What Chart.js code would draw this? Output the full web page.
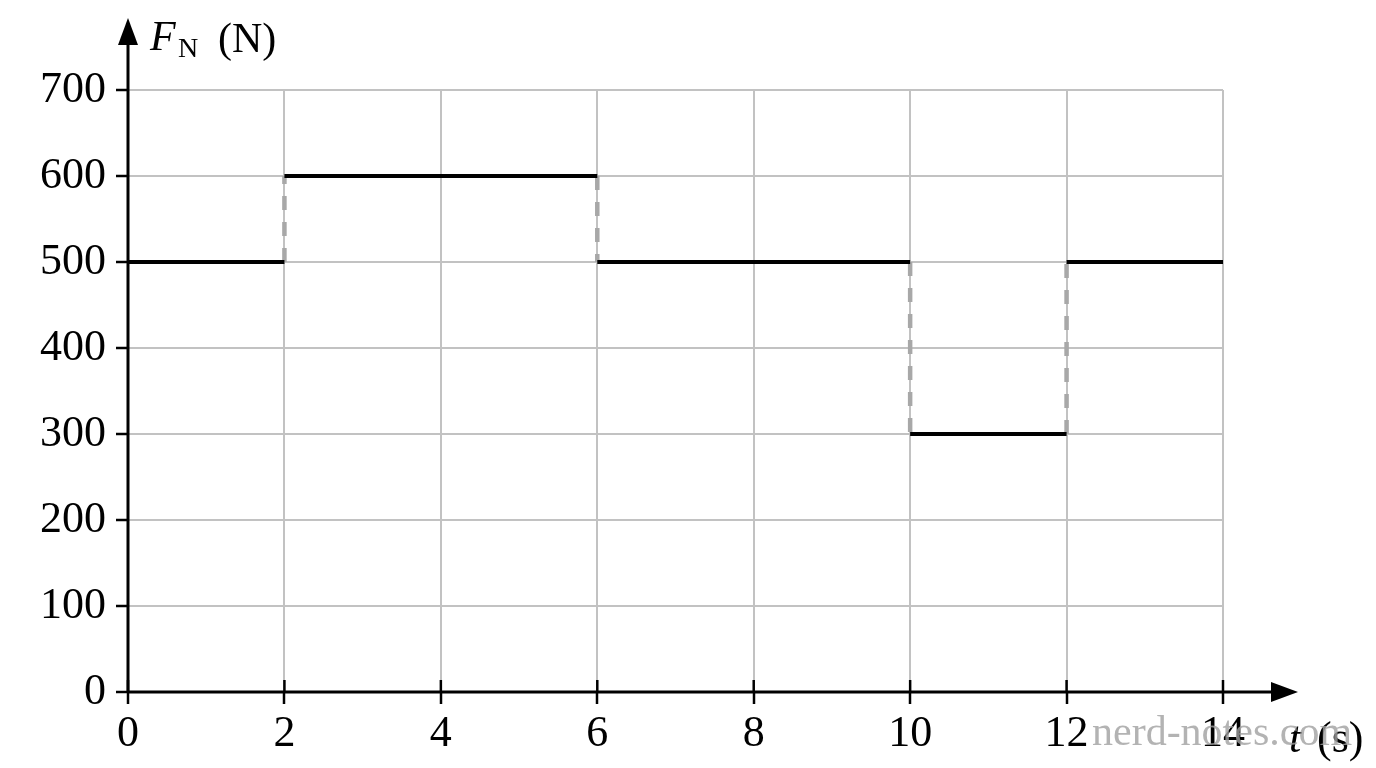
<!DOCTYPE html>
<html>
<head>
<meta charset="utf-8">
<script src="https://cdn.jsdelivr.net/npm/chart.js@4/dist/chart.umd.min.js"></script>
<style>
  html, body { margin: 0; background: #fff; }
  canvas { display: block; }
</style>
</head>
<body>
<canvas id="forceChart" width="1376" height="768"></canvas>
<script>
// ─── Data ──────────────────────────────────────────────────
const stepTimes = [0, 2, 6, 10, 12, 14];          // s, segment edges
const stepForces = [500, 600, 500, 300, 500];     // N, one per segment
const xTicks = [0, 2, 4, 6, 8, 10, 12, 14];
const yTicks = [0, 100, 200, 300, 400, 500, 600, 700];

const SERIF = '"Liberation Serif", "DejaVu Serif", serif';

// flat levels, broken with nulls between segments
const levelPoints = [];
stepForces.forEach((f, i) => {
  levelPoints.push({ x: stepTimes[i], y: f }, { x: stepTimes[i + 1], y: f });
  if (i < stepForces.length - 1) levelPoints.push({ x: stepTimes[i + 1], y: null });
});

// dashed jumps at each segment edge
const jumpPoints = [];
for (let i = 1; i < stepForces.length; i++) {
  jumpPoints.push({ x: stepTimes[i], y: stepForces[i - 1] }, { x: stepTimes[i], y: stepForces[i] }, { x: stepTimes[i], y: null });
}

// ─── Axes, arrows, titles, watermark ───────────────────────
const axesPlugin = {
  id: 'axesPlugin',
  afterDraw(chart) {
    const { ctx, chartArea: a, scales } = chart;
    ctx.save();
    ctx.strokeStyle = '#000';
    ctx.fillStyle = '#000';

    // x ticks poke above the axis too
    ctx.lineWidth = 2.5;
    xTicks.forEach(v => {
      const px = scales.x.getPixelForValue(v);
      ctx.beginPath();
      ctx.moveTo(px, a.bottom - 12);
      ctx.lineTo(px, a.bottom);
      ctx.stroke();
    });

    ctx.lineWidth = 3;
    ctx.beginPath();
    ctx.moveTo(a.left, a.bottom);
    ctx.lineTo(a.left, 40);
    ctx.moveTo(a.left, a.bottom);
    ctx.lineTo(1276, a.bottom);
    ctx.stroke();

    ctx.beginPath();
    ctx.moveTo(a.left, 18);
    ctx.lineTo(a.left - 10, 45);
    ctx.lineTo(a.left + 10, 45);
    ctx.closePath();
    ctx.fill();

    ctx.beginPath();
    ctx.moveTo(1298, a.bottom);
    ctx.lineTo(1271, a.bottom - 10);
    ctx.lineTo(1271, a.bottom + 10);
    ctx.closePath();
    ctx.fill();

    // y title: F_N (N)
    ctx.textBaseline = 'alphabetic';
    ctx.textAlign = 'left';
    ctx.font = 'italic 42px ' + SERIF;
    ctx.fillText('F', 150, 50);
    ctx.font = '28px ' + SERIF;
    ctx.fillText('N', 178, 57);
    ctx.font = '42px ' + SERIF;
    ctx.fillText('(N)', 218, 52);

    // x title: t (s)
    ctx.font = 'italic 44px ' + SERIF;
    ctx.fillText('t', 1289, 752);
    ctx.font = '44px ' + SERIF;
    ctx.fillText('(s)', 1317, 752);

    // watermark
    ctx.font = '42px ' + SERIF;
    ctx.fillStyle = 'rgba(160,160,160,0.8)';
    ctx.fillText('nerd-notes.com', 1092, 745);
    ctx.restore();
  }
};

const tickFont = { family: SERIF, size: 44 };
const gridOpts = { color: '#c2c2c2', lineWidth: 2, tickLength: 12, tickColor: '#000', tickWidth: 2.5 };

new Chart(document.getElementById('forceChart'), {
  type: 'line',
  data: {
    datasets: [
      { label: 'F_N', data: levelPoints, borderColor: '#000', borderWidth: 4,
        pointRadius: 0, spanGaps: false, order: 0 },
      { label: 'jumps', data: jumpPoints, borderColor: '#a8a8a8', borderWidth: 4.5,
        borderDash: [14, 12], pointRadius: 0, spanGaps: false, order: 1 }
    ]
  },
  options: {
    responsive: false,
    animation: false,
    layout: { padding: { top: 90, right: 153, left: 0, bottom: 0 } },
    plugins: { legend: { display: false }, tooltip: { enabled: false } },
    scales: {
      x: {
        type: 'linear', min: 0, max: 14,
        afterBuildTicks: s => { s.ticks = xTicks.map(v => ({ value: v })); },
        afterFit: s => { s.height = 76; },
        grid: gridOpts,
        border: { display: false },
        ticks: { font: tickFont, color: '#000', padding: 4, maxRotation: 0 }
      },
      y: {
        type: 'linear', min: 0, max: 700,
        afterBuildTicks: s => { s.ticks = yTicks.map(v => ({ value: v })); },
        afterFit: s => { s.width = 128; },
        grid: gridOpts,
        border: { display: false },
        ticks: { font: tickFont, color: '#000', padding: 10 }
      }
    }
  },
  plugins: [axesPlugin]
});
</script>
</body>
</html>
